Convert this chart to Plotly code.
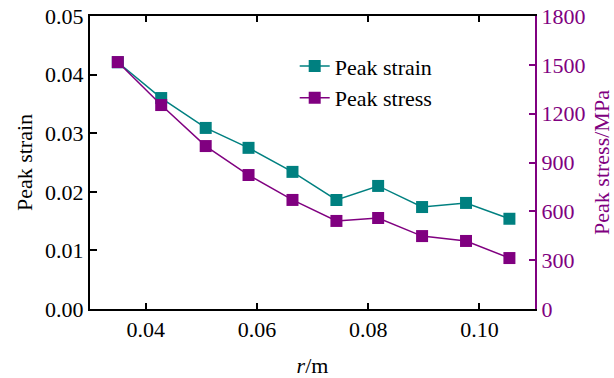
import plotly.graph_objects as go

r = [0.0350, 0.0428, 0.0508, 0.0585, 0.0664, 0.0743, 0.0818, 0.0897, 0.0976, 0.1054]
peak_strain = [0.0421, 0.0360, 0.0309, 0.0275, 0.0234, 0.0186, 0.0210, 0.0174, 0.0181, 0.0154]
peak_stress = [1517, 1253, 1001, 823, 670, 541, 559, 448, 418, 313]

x_ticks = [0.04, 0.06, 0.08, 0.10]
x_ticklabels = ["0.04", "0.06", "0.08", "0.10"]
y1_ticks = [0, 0.01, 0.02, 0.03, 0.04, 0.05]
y1_ticklabels = ["0.00", "0.01", "0.02", "0.03", "0.04", "0.05"]
y2_ticks = [0, 300, 600, 900, 1200, 1500, 1800]

TEAL = "#008080"
PURPLE = "#800080"
FONT = "Liberation Serif"
FS = 22

fig = go.Figure()
fig.add_trace(go.Scatter(x=r, y=peak_strain, name="Peak strain", mode="lines+markers",
                         line=dict(color=TEAL, width=1.5),
                         marker=dict(symbol="square", size=12, color=TEAL)))
fig.add_trace(go.Scatter(x=r, y=peak_stress, name="Peak stress", mode="lines+markers",
                         yaxis="y2",
                         line=dict(color=PURPLE, width=1.5),
                         marker=dict(symbol="square", size=12, color=PURPLE)))

fig.update_layout(
    width=614, height=378,
    margin=dict(l=90, r=79, t=16, b=69),
    plot_bgcolor="white", paper_bgcolor="white",
    font=dict(family=FONT, size=FS, color="black"),
    showlegend=True,
    legend=dict(x=0.46, y=0.90, xanchor="left", yanchor="top",
                bgcolor="rgba(0,0,0,0)", font=dict(family=FONT, size=FS), tracegroupgap=0),
    xaxis=dict(range=[0.03, 0.11], tickvals=x_ticks, ticktext=x_ticklabels,
               tickfont=dict(family=FONT, size=FS, color="black"), automargin=False,
               showline=True, linecolor="black", linewidth=2, mirror="ticks",
               ticks="inside", ticklen=6, tickwidth=2, tickcolor="black",
               showgrid=False, zeroline=False,
               title=dict(text="<i>r</i>/m", font=dict(family=FONT, size=FS), standoff=18)),
    yaxis=dict(range=[0, 0.05], tickvals=y1_ticks, ticktext=y1_ticklabels,
               tickfont=dict(family=FONT, size=FS, color="black"), automargin=False,
               showline=True, linecolor="black", linewidth=2,
               ticks="inside", ticklen=7, tickwidth=2, tickcolor="black",
               showgrid=False, zeroline=False,
               title=dict(text="Peak strain", font=dict(family=FONT, size=FS), standoff=6)),
    yaxis2=dict(range=[0, 1800], tickvals=y2_ticks, overlaying="y", side="right",
                automargin=False,
                showline=True, linecolor=PURPLE, linewidth=2,
                ticks="inside", ticklen=6, tickwidth=2, tickcolor=PURPLE,
                tickfont=dict(family=FONT, size=FS, color=PURPLE),
                showgrid=False, zeroline=False,
                title=dict(text="Peak stress/MPa", font=dict(family=FONT, size=FS, color=PURPLE),
                           standoff=12)),
)

fig.write_html("out.html")
